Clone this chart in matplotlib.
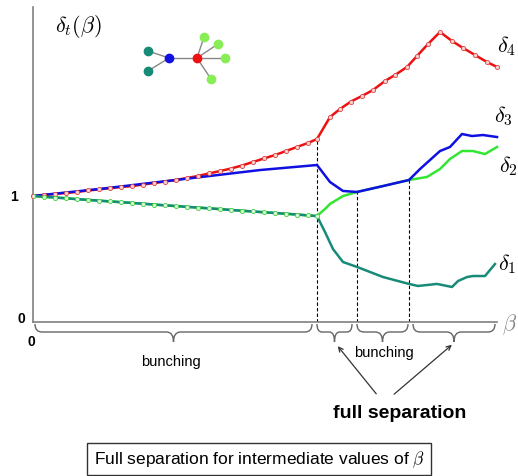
import numpy as np
import matplotlib
matplotlib.use('Agg')
import matplotlib.pyplot as plt
from matplotlib.path import Path
from matplotlib.patches import PathPatch, FancyArrowPatch

plt.rcParams['font.family'] = ['Liberation Sans', 'DejaVu Sans']
plt.rcParams['mathtext.fontset'] = 'cm'

# shared early segment (markers every step)
beta_early = [0.00, 0.11, 0.22, 0.33, 0.44, 0.55, 0.66, 0.77, 0.88, 0.99, 1.10, 1.21, 1.32, 1.43,
              1.54, 1.65, 1.76, 1.87, 1.98, 2.09, 2.20, 2.31, 2.42, 2.53, 2.64, 2.75, 2.84]
d4_early = [1.000, 1.008, 1.016, 1.024, 1.032, 1.044, 1.052, 1.063, 1.071, 1.079, 1.091, 1.103, 1.115, 1.127,
            1.143, 1.159, 1.179, 1.198, 1.218, 1.242, 1.270, 1.298, 1.325, 1.357, 1.389, 1.421, 1.452]
d12_early = [1.000, 0.994, 0.988, 0.982, 0.975, 0.969, 0.963, 0.957, 0.951, 0.945, 0.939, 0.932, 0.926, 0.920,
             0.914, 0.908, 0.902, 0.896, 0.889, 0.883, 0.877, 0.871, 0.865, 0.859, 0.853, 0.846, 0.841]

# delta_4 (red) after first split
beta_d4 = [2.97, 3.07, 3.18, 3.29, 3.40, 3.52, 3.62, 3.74, 3.84, 3.95, 4.07, 4.19, 4.30, 4.42, 4.54, 4.64]
d4_late = [1.627, 1.690, 1.750, 1.794, 1.841, 1.913, 1.960, 2.024, 2.111, 2.206, 2.302, 2.230, 2.175, 2.119, 2.063, 2.024]

# delta_3 (blue)
beta_d3 = [0.00, 0.67, 1.64, 2.27, 2.84, 2.97, 3.10, 3.24, 3.50, 3.76, 3.87, 4.07, 4.17, 4.29, 4.39, 4.50, 4.64]
d3 = [1.000, 1.056, 1.147, 1.206, 1.246, 1.111, 1.040, 1.032, 1.079, 1.127, 1.214, 1.357, 1.389, 1.492, 1.476, 1.484, 1.468]

# delta_2 (green) after first split
beta_d2 = [2.92, 2.97, 3.10, 3.24, 3.50, 3.76, 3.94, 4.07, 4.17, 4.29, 4.40, 4.52, 4.64]
d2_late = [0.897, 0.937, 1.000, 1.032, 1.079, 1.127, 1.151, 1.214, 1.294, 1.357, 1.357, 1.333, 1.389]

# delta_1 (teal) after first split
beta_d1 = [2.92, 3.00, 3.10, 3.24, 3.50, 3.76, 3.85, 4.04, 4.19, 4.25, 4.34, 4.40, 4.52, 4.62]
d1_late = [0.714, 0.579, 0.476, 0.437, 0.357, 0.302, 0.286, 0.302, 0.278, 0.325, 0.357, 0.365, 0.365, 0.460]

# split points (dashed lines)
split_beta = [2.84, 3.24, 3.76]
split_top = [1.452, 1.032, 1.127]

RED, BLUE, GREEN, TEAL = '#ee1111', '#1010e0', '#33e633', '#178a78'

fig = plt.figure(figsize=(5.18, 4.77), dpi=100)
ax = fig.add_axes([33 / 518, 154 / 477, 464 / 518, 315 / 477])
ax.set_xlim(0, 4.64)
ax.set_ylim(0, 2.5)
for s in ['top', 'right']:
    ax.spines[s].set_visible(False)
for s in ['left', 'bottom']:
    ax.spines[s].set_color('#808080')
    ax.spines[s].set_linewidth(1.2)
ax.set_xticks([])
ax.set_yticks([])

b4 = beta_early + beta_d4
y4 = d4_early + d4_late
ax.plot(b4, y4, color=RED, lw=1.8, zorder=2, clip_on=False)
ax.plot(beta_d3, d3, color=BLUE, lw=1.8, zorder=3, clip_on=False)
ax.plot(b4, y4, ls='none', marker='o', ms=3, mfc='#ffd0d0', mec='#d84444', mew=0.6, zorder=4, clip_on=False)

b2 = beta_early + beta_d2
y2 = d12_early + d2_late
b1 = beta_early + beta_d1
y1 = d12_early + d1_late
ax.plot(b2, y2, color=GREEN, lw=1.8, zorder=2, clip_on=False)
ax.plot(b1, y1, color=TEAL, lw=1.8, zorder=3, clip_on=False)
ax.plot(beta_early, d12_early, ls='none', marker='o', ms=3, mfc='#d8f8d8', mec='#44d044', mew=0.6, zorder=4)

ax.vlines(split_beta, 0, split_top, colors='black', linestyles=(0, (3, 2)), lw=0.8, zorder=1)

# overlay in pixel coordinates for annotations
ov = fig.add_axes([0, 0, 1, 1])
ov.set_xlim(0, 518)
ov.set_ylim(477, 0)
ov.axis('off')
ov.patch.set_alpha(0)

ov.text(78, 27, r'$\delta_t(\beta)$', fontsize=16, ha='center', va='center')
ov.text(507, 46, r'$\delta_4$', fontsize=16, ha='center', va='center')
ov.text(503, 116, r'$\delta_3$', fontsize=16, ha='center', va='center')
ov.text(508, 166, r'$\delta_2$', fontsize=16, ha='center', va='center')
ov.text(507, 264, r'$\delta_1$', fontsize=16, ha='center', va='center')
ov.text(510, 325, r'$\beta$', fontsize=16, ha='center', va='center', color='#888888')
ov.text(14, 197, '1', fontsize=10, fontweight='bold', ha='center', va='center')
ov.text(21, 319, '0', fontsize=10, fontweight='bold', ha='center', va='center')
ov.text(31, 342, '0', fontsize=10, fontweight='bold', ha='center', va='center')

# small graph icon
nodes = {'t1': (148, 52), 't2': (148, 72), 'b': (169, 59), 'r': (197, 59),
         'g1': (204, 38), 'g2': (218, 45), 'g3': (225, 59), 'g4': (211, 80)}
edges = [('t1', 'b'), ('t2', 'b'), ('b', 'r'), ('r', 'g1'), ('r', 'g2'), ('r', 'g3'), ('r', 'g4')]
for a, b in edges:
    ov.plot([nodes[a][0], nodes[b][0]], [nodes[a][1], nodes[b][1]], color='#888888', lw=1, zorder=1)
ncol = {'t1': TEAL, 't2': TEAL, 'b': BLUE, 'r': RED, 'g1': '#88ee55', 'g2': '#88ee55', 'g3': '#88ee55', 'g4': '#88ee55'}
for k, (x, y) in nodes.items():
    ov.plot(x, y, 'o', color=ncol[k], ms=6, zorder=2)


def brace(x0, x1, y0=325, ym=333, yt=343, r=7):
    xm = (x0 + x1) / 2
    verts = [(x0, y0), (x0, ym), (x0 + r, ym),
             (xm - r, ym), (xm, ym), (xm, yt),
             (xm, ym), (xm + r, ym),
             (x1 - r, ym), (x1, ym), (x1, y0)]
    codes = [Path.MOVETO, Path.CURVE3, Path.CURVE3,
             Path.LINETO, Path.CURVE3, Path.CURVE3,
             Path.CURVE3, Path.CURVE3,
             Path.LINETO, Path.CURVE3, Path.CURVE3]
    ov.add_patch(PathPatch(Path(verts, codes), fc='none', ec='#666666', lw=1))


brace(35, 312)
brace(317, 352, r=5)
brace(357, 408)
brace(413, 495)

ov.text(171, 362, 'bunching', fontsize=10.5, ha='center', va='center')
ov.text(384, 353, 'bunching', fontsize=10.5, ha='center', va='center')

for (xs, ys), (xe, ye) in [((378, 397), (336, 345)), ((392, 397), (454, 344))]:
    ov.add_patch(FancyArrowPatch((xs, ys), (xe, ye), arrowstyle='->', mutation_scale=8,
                                 color='#333333', lw=0.9))

ov.text(400, 414, 'full separation', fontsize=14, fontweight='bold', ha='center', va='center')

ov.text(259, 460, r'Full separation for intermediate values of $\beta$', fontsize=12.5,
        ha='center', va='center',
        bbox=dict(boxstyle='square,pad=0.35', fc='white', ec='#333333', lw=1))

fig.savefig('out.png', dpi=100)
